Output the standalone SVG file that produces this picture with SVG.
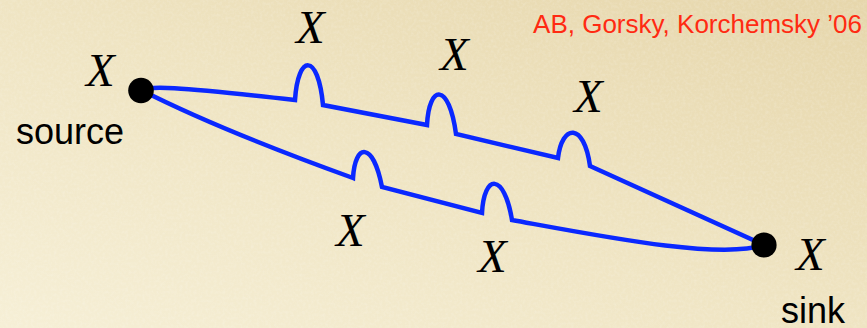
<svg xmlns="http://www.w3.org/2000/svg" width="867" height="328" viewBox="0 0 867 328">
  <defs>
    <linearGradient id="bg" x1="0" y1="1" x2="1" y2="0">
      <stop offset="0" stop-color="#f6efd6"/>
      <stop offset="0.5" stop-color="#efe4c2"/>
      <stop offset="1" stop-color="#e6d6ab"/>
    </linearGradient>
    <filter id="grain" x="0" y="0" width="100%" height="100%">
      <feTurbulence type="fractalNoise" baseFrequency="0.35" numOctaves="2" seed="3"/>
      <feColorMatrix type="matrix" values="0 0 0 0 1  0 0 0 0 1  0 0 0 0 1  0 0 0 0.9 -0.35"/>
    </filter>
    <style>
      .wire { fill: none; stroke: #0a28ff; stroke-width: 4.5; stroke-linejoin: miter; stroke-linecap: butt; }
      .dot { fill: #000; }
      .x { font-family: "Liberation Serif", "Times New Roman", serif; font-style: italic; font-size: 47px; fill: #000; }
      .lbl { font-family: "Liberation Sans", Arial, sans-serif; font-size: 36px; fill: #000; }
      .cite { font-family: "Liberation Sans", Arial, sans-serif; font-size: 26px; fill: #ff2a12; }
    </style>
  </defs>

  <rect width="867" height="328" fill="url(#bg)"/>
  <rect width="867" height="328" filter="url(#grain)" opacity="0.35"/>

  <g id="connectors">
    <path id="upper" class="wire" d="M 141 90 C 150 86, 170 86, 295 100 C 298 54, 318 52, 323 105 L 427 125 C 429 84, 449 82, 456 134 L 558 158 C 562 124, 584 122, 590 166 L 764 245"/>
    <path id="lower" class="wire" d="M 141 90 Q 220 130 353 178 C 355 143, 373 141, 382 187 L 482 213 C 484 174, 504 172, 512 220 C 600 236, 720 260, 764 245"/>
  </g>

  <g id="source">
    <circle class="dot" cx="141" cy="90.5" r="12.8"/>
    <text class="x" x="86" y="86">X</text>
    <text class="lbl" x="16" y="144">source</text>
  </g>

  <g id="sink">
    <circle class="dot" cx="764" cy="245" r="12.6"/>
    <text class="x" x="796" y="270">X</text>
    <text class="lbl" x="781" y="323">sink</text>
  </g>

  <g id="labels">
    <text class="x" x="296" y="43">X</text>
    <text class="x" x="440" y="70">X</text>
    <text class="x" x="574" y="112">X</text>
    <text class="x" x="336" y="246">X</text>
    <text class="x" x="478" y="272">X</text>
  </g>

  <g id="citation">
    <text class="cite" x="862" y="33" text-anchor="end">AB, Gorsky, Korchemsky ’06</text>
  </g>
</svg>
